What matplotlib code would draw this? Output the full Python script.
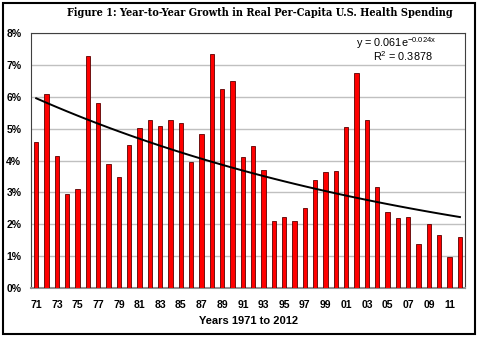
import numpy as np
import matplotlib.pyplot as plt
from matplotlib.patches import Rectangle

# Growth in real per-capita U.S. health spending, %
years = list(range(1971, 2013))
growth = [4.57, 6.10, 4.13, 2.94, 3.10, 7.28, 5.81, 3.89, 3.48, 4.50,
          5.03, 5.27, 5.07, 5.26, 5.19, 3.96, 4.83, 7.34, 6.24, 6.49,
          4.12, 4.47, 3.70, 2.10, 2.23, 2.10, 2.52, 3.39, 3.65, 3.66,
          5.04, 6.76, 5.27, 3.17, 2.37, 2.21, 2.22, 1.39, 2.00, 1.65,
          0.97, 1.61]
tick_labels = [f"{y % 100:02d}" for y in years]

# Exponential trend shown on the chart
TREND_A = 0.061
TREND_B = -0.024

fig = plt.figure(figsize=(4.8, 3.38), dpi=100)
ax = fig.add_axes([0.0646, 0.148, 0.9044, 0.754])

x = np.arange(1, len(years) + 1)
ax.bar(x, growth, width=0.42, color="#ff0000", edgecolor="#5a0000",
       linewidth=0.6, zorder=3)

trend = TREND_A * np.exp(TREND_B * x) * 100
ax.plot(x, trend, color="black", linewidth=1.4, zorder=4)

ax.set_xlim(0.5, len(years) + 0.5)
ax.set_ylim(0, 8)
ax.set_yticks(range(0, 9))
ax.set_yticklabels([f"{v}%" for v in range(0, 9)])
ax.set_xticks(x[::2])
ax.set_xticklabels(tick_labels[::2])
ax.tick_params(length=0, labelsize=7.5, pad=9)
ax.tick_params(axis="y", pad=7)
for lab in ax.get_xticklabels() + ax.get_yticklabels():
    lab.set_fontweight("bold")
    lab.set_family("Liberation Sans")
ax.grid(axis="y", color="#c0c0c0", linewidth=1.0, zorder=0)
for side in ["top", "right", "left"]:
    ax.spines[side].set_color("#404040")
    ax.spines[side].set_linewidth(0.8)
ax.spines["bottom"].set_color("#909090")
ax.spines["bottom"].set_linewidth(1.5)

ax.set_xlabel("Years 1971 to 2012", fontsize=8, fontweight="bold",
              family="Liberation Sans", labelpad=4)

# trendline annotation
ax.text(0.935, 0.962, r"y = 0.061e$^{\mathregular{-0.024x}}$", transform=ax.transAxes,
        ha="right", va="center", fontsize=7.8, family="Liberation Sans")
ax.text(0.925, 0.910, r"R$^{\mathregular{2}}$ = 0.3878", transform=ax.transAxes,
        ha="right", va="center", fontsize=7.8, family="Liberation Sans")

fig.text(0.542, 0.963, "Figure 1: Year-to-Year Growth in Real Per-Capita U.S. Health Spending",
         ha="center", va="center", fontsize=7.8, fontweight="bold",
         family="DejaVu Serif", fontstretch="condensed")

fig.patches.append(Rectangle((0.006, 0.012), 0.984, 0.98, transform=fig.transFigure,
                             fill=False, edgecolor="black", linewidth=1.5))

fig.savefig("out.png", dpi=100)
